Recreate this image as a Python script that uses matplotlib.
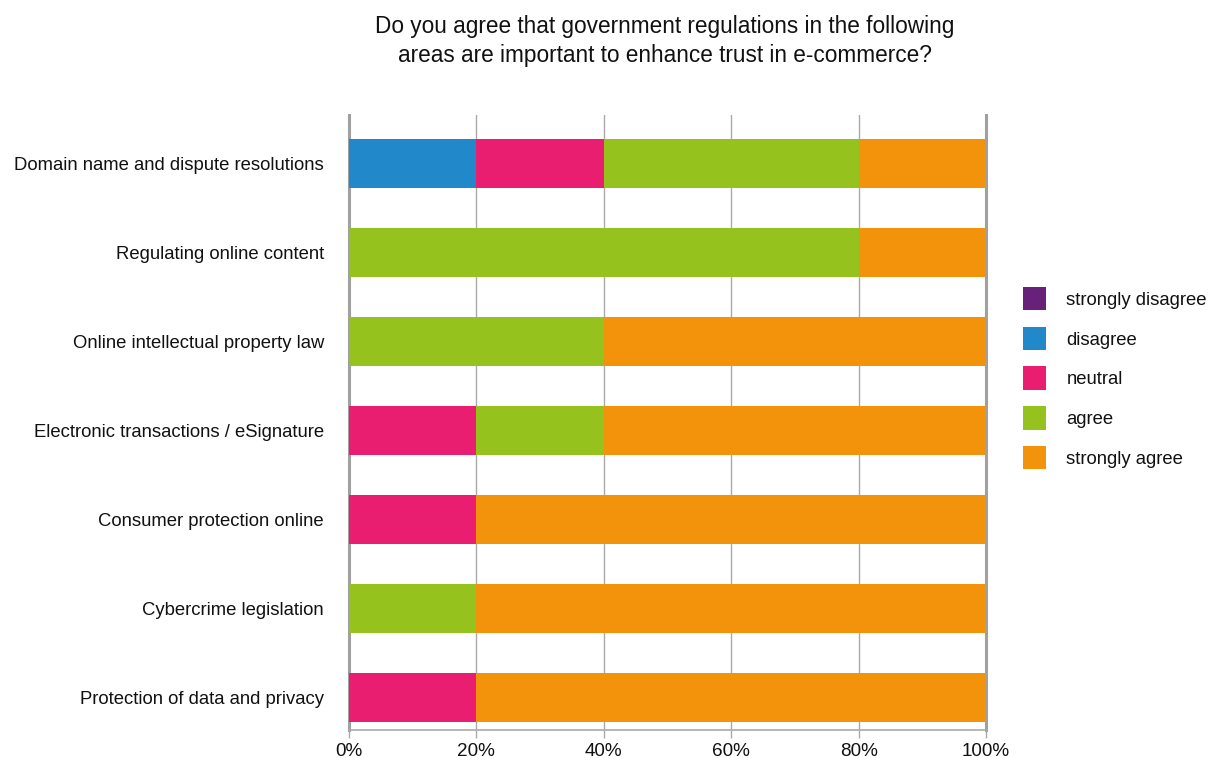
import matplotlib
matplotlib.use("Agg")
import matplotlib.pyplot as plt
from matplotlib.patches import Patch

plt.rcParams['font.family'] = ['Liberation Sans', 'DejaVu Sans']

categories = [
    "Domain name and dispute resolutions",
    "Regulating online content",
    "Online intellectual property law",
    "Electronic transactions / eSignature",
    "Consumer protection online",
    "Cybercrime legislation",
    "Protection of data and privacy",
]
series_names = ["strongly disagree", "disagree", "neutral", "agree", "strongly agree"]
strongly_disagree = [0, 0, 0, 0, 0, 0, 0]
disagree = [20, 0, 0, 0, 0, 0, 0]
neutral = [20, 0, 0, 20, 20, 0, 20]
agree = [40, 80, 40, 20, 0, 20, 0]
strongly_agree = [20, 20, 60, 60, 80, 80, 80]
colors = ["#68217A", "#2188C9", "#E91E71", "#96C21E", "#F3920B"]
xticks = [0, 20, 40, 60, 80, 100]
xtick_labels = ["0%", "20%", "40%", "60%", "80%", "100%"]
title = "Do you agree that government regulations in the following\nareas are important to enhance trust in e-commerce?"

W, H = 1208, 758
fig = plt.figure(figsize=(W / 100, H / 100), dpi=100)
ax = fig.add_axes([349 / W, 1 - 730 / H, (986 - 349) / W, (730 - 115) / H])

series = [strongly_disagree, disagree, neutral, agree, strongly_agree]
ypos = list(range(len(categories)))
left = [0] * len(categories)
for vals, col in zip(series, colors):
    ax.barh(ypos, vals, left=left, height=0.55, color=col, zorder=3, linewidth=0)
    left = [l + v for l, v in zip(left, vals)]

ax.set_ylim(6.365, -0.545)
ax.set_xlim(0, 100)
ax.set_yticks(ypos)
ax.set_yticklabels(categories, fontsize=13.3, color="#111111")
ax.tick_params(axis='y', length=0, pad=18)
ax.set_xticks(xticks)
ax.set_xticklabels(xtick_labels, fontsize=13.6, color="#111111")
ax.tick_params(axis='x', length=6, width=1, color="#AAAAAA", pad=3)

ax.grid(axis='x', color="#AAAAAA", linewidth=1, zorder=1)
ax.spines['top'].set_visible(False)
ax.spines['left'].set_color("#A0A0A0")
ax.spines['left'].set_linewidth(2.2)
ax.spines['right'].set_color("#A0A0A0")
ax.spines['right'].set_linewidth(2.2)
ax.spines['bottom'].set_color("#AAAAAA")
ax.spines['bottom'].set_linewidth(1.2)

fig.text(665 / W, 1 - 41 / H, title, ha='center', va='center', fontsize=16.3, color="#111111", linespacing=1.34)

handles = [Patch(facecolor=c, edgecolor='none') for c in colors]
fig.legend(handles, series_names, loc='upper left', bbox_to_anchor=(1023 / W, 1 - 287 / H),
           frameon=False, fontsize=13.3, handlelength=1.27, handleheight=1.577,
           handletextpad=1.08, labelspacing=0.88, borderpad=0, borderaxespad=0,
           labelcolor="#111111")

fig.savefig("out.png", dpi=100)
